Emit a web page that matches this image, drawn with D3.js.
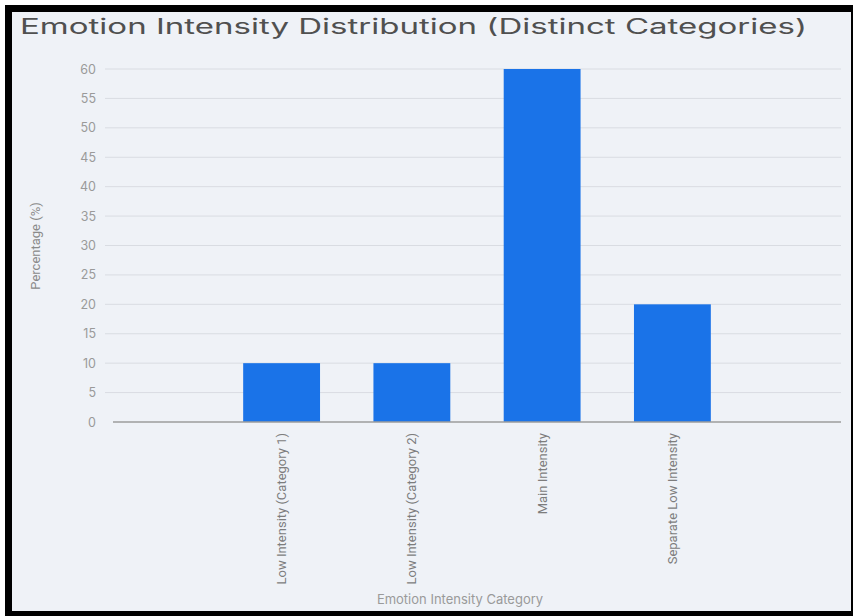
<html>
<head>
<script src="https://cdn.jsdelivr.net/npm/d3@7"></script>
<style>
  body { margin: 0; background: #fff; }
</style>
</head>
<body>
<script>
// data
let categories = ["Low Intensity (Category 1)", "Low Intensity (Category 2)", "Main Intensity", "Separate Low Intensity"]
let values = [10, 10, 60, 20]
let yTicks = [0, 5, 10, 15, 20, 25, 30, 35, 40, 45, 50, 55, 60]

let w = 853, h = 616
let svg = d3.select("body").append("svg").attr("width", w).attr("height", h)

// frame
svg.append("rect").attr("x", 5).attr("y", 5).attr("width", w - 5).attr("height", h - 5).attr("fill", "#000")
svg.append("rect").attr("x", 12).attr("y", 12).attr("width", 839).attr("height", 599).attr("fill", "#eff2f7")

let geo = "Inter, 'Open Sans', sans-serif"
let narrow = "'Liberation Sans Narrow', Roboto, sans-serif"

svg.append("text")
   .attr("x", 20).attr("y", 34)
   .attr("font-family", geo).attr("font-size", 21)
   .attr("fill", "#505050")
   .attr("textLength", 787).attr("lengthAdjust", "spacingAndGlyphs")
   .text("Emotion Intensity Distribution (Distinct Categories)")

let plotLeft = 105, plotRight = 841, plotTop = 69, plotBottom = 422

// bars sit a little right of the gridline span
let xScale = d3.scaleBand().domain(categories).range([plotLeft + 4, plotRight + 4])
               .paddingInner(0.41).paddingOuter(1.03)
let yScale = d3.scaleLinear().domain([0, 60]).range([plotBottom, plotTop])

// gridlines
svg.append("g").selectAll("line").data(yTicks.filter(d => d > 0)).enter().append("line")
   .attr("x1", plotLeft).attr("x2", plotRight)
   .attr("y1", d => yScale(d)).attr("y2", d => yScale(d))
   .attr("stroke", "#d9dce2").attr("stroke-width", 1)

// y axis labels
let yAxis = d3.axisLeft(yScale).tickValues(yTicks).tickSize(0).tickPadding(9)
let gy = svg.append("g").attr("transform", "translate(" + plotLeft + ",0)").call(yAxis)
gy.select(".domain").remove()
gy.selectAll("text").attr("font-family", geo).attr("font-size", 12.5).attr("fill", "#9a9a9a")

// bars
svg.append("g").selectAll("rect").data(values).enter().append("rect")
   .attr("x", (d, i) => xScale(categories[i]))
   .attr("width", xScale.bandwidth())
   .attr("y", d => yScale(d))
   .attr("height", d => yScale(0) - yScale(d))
   .attr("fill", "#1a73e8")

// baseline
svg.append("line").attr("x1", 113).attr("x2", plotRight)
   .attr("y1", yScale(0)).attr("y2", yScale(0))
   .attr("stroke", "#9c9c9c").attr("stroke-width", 1.5)

// x axis labels
let xAxis = d3.axisBottom(xScale).tickSize(0).tickPadding(0)
let gx = svg.append("g").attr("transform", "translate(0," + plotBottom + ")").call(xAxis)
gx.select(".domain").remove()
gx.selectAll("text")
  .attr("font-family", narrow).attr("font-size", 13).attr("fill", "#7d7d7d")
  .attr("transform", "rotate(-90)")
  .attr("text-anchor", "end")
  .attr("x", -11).attr("y", 0).attr("dy", "0.35em")

// axis titles
svg.append("text")
   .attr("transform", "translate(40,246) rotate(-90)")
   .attr("text-anchor", "middle")
   .attr("font-family", narrow).attr("font-size", 13).attr("fill", "#8a8a8a")
   .text("Percentage (%)")

svg.append("text")
   .attr("x", 460).attr("y", 604)
   .attr("text-anchor", "middle")
   .attr("font-family", geo).attr("font-size", 13).attr("fill", "#9a9a9a")
   .text("Emotion Intensity Category")
</script>
</body>
</html>
